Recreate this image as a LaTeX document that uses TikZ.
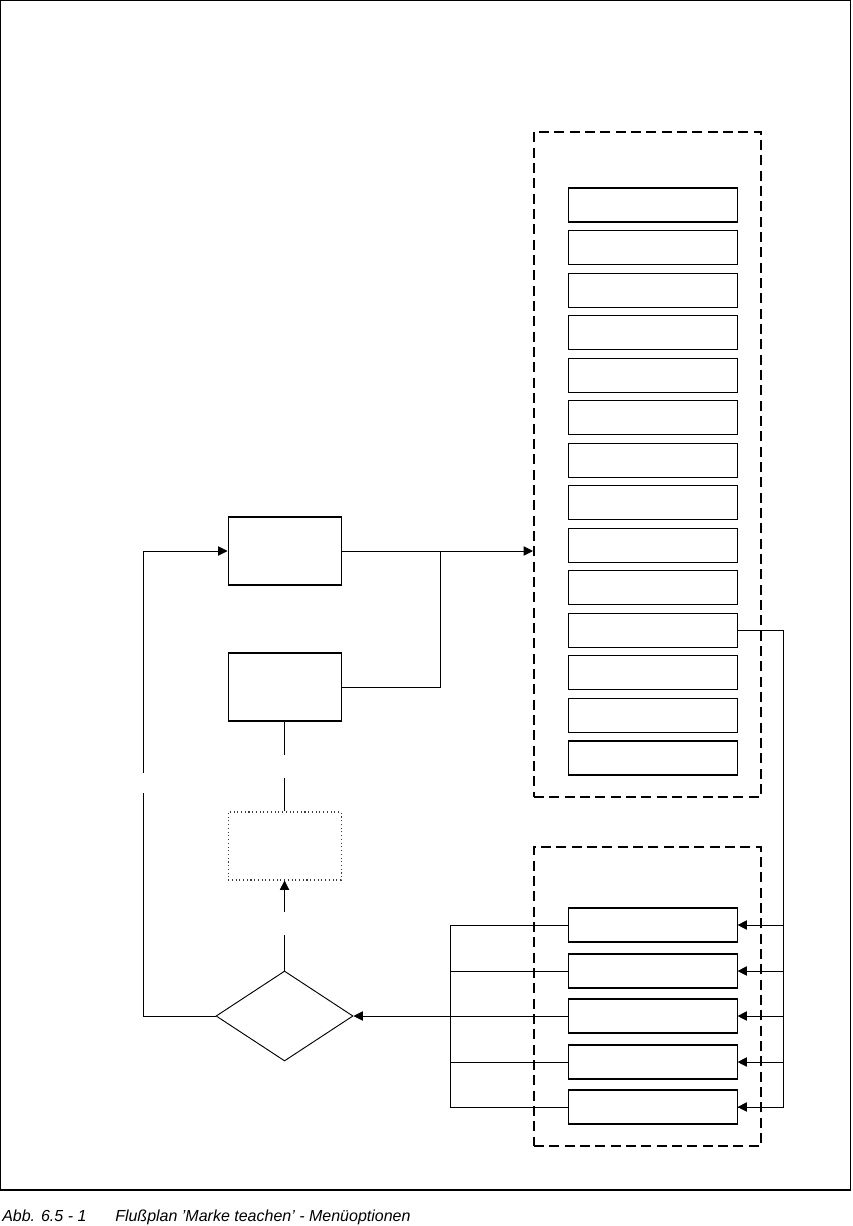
\documentclass[tikz,border=0pt]{standalone}
\usepackage{fontspec}
\setmainfont{Liberation Sans}
\usetikzlibrary{arrows.meta,shapes.geometric}
\definecolor{line_color}{RGB}{0,0,0}
\definecolor{dot_color}{RGB}{60,60,60}
\tikzset{
  frame/.style={draw=line_color, line width=0.8pt},
  group/.style={
    draw=line_color, line width=1.5pt, dash pattern=on 7.5pt off 4pt,
    minimum width=170.25pt, inner sep=0pt
  },
  option/.style={
    draw=line_color, line width=0.8pt,
    minimum width=126.75pt, minimum height=25.5pt, inner sep=0pt
  },
  action/.style={
    draw=line_color, line width=0.8pt,
    minimum width=84.75pt, minimum height=51pt, inner sep=0pt
  },
  pending/.style={
    draw=dot_color, line width=0.8pt, dotted,
    minimum width=84.75pt, minimum height=51pt, inner sep=0pt
  },
  decision/.style={
    draw=line_color, line width=0.7pt, diamond, aspect=1.52, inner sep=0pt,
    minimum width=102.75pt, minimum height=67.5pt
  },
  flowlink/.style={line width=0.65pt, -{Triangle[length=7pt, width=7pt]}},
  plainlink/.style={line width=0.65pt},
  caption/.style={anchor=base west, inner sep=0pt, font=\fontsize{12}{14}\selectfont\itshape}
}

\begin{document}
\begin{tikzpicture}

\useasboundingbox (0,0) rectangle (639pt,-919.5pt);
\draw[frame] (0.4pt,-0.4pt) rectangle (638.2pt,-892.5pt);

\node[group, minimum height=498.75pt] (menu) at (485.6pt,-348.4pt) {};
\node[group, minimum height=224.25pt] (choice) at (485.6pt,-747.4pt) {};

\node[option] (opt1) at (489.4pt,-153.75pt) {};
\node[option] (opt2) at (489.4pt,-185.6pt) {};
\node[option] (opt3) at (489.4pt,-217.6pt) {};
\node[option] (opt4) at (489.4pt,-249.5pt) {};
\node[option] (opt5) at (489.4pt,-281.4pt) {};
\node[option] (opt6) at (489.4pt,-313.3pt) {};
\node[option] (opt7) at (489.4pt,-345.2pt) {};
\node[option] (opt8) at (489.4pt,-377.1pt) {};
\node[option] (opt9) at (489.4pt,-409.0pt) {};
\node[option] (opt10) at (489.4pt,-440.9pt) {};
\node[option] (opt11) at (489.4pt,-472.8pt) {};
\node[option] (opt12) at (489.4pt,-504.7pt) {};
\node[option] (opt13) at (489.4pt,-536.6pt) {};
\node[option] (opt14) at (489.4pt,-568.5pt) {};

\node[option] (sel1) at (489.4pt,-693.75pt) {};
\node[option] (sel2) at (489.4pt,-728.25pt) {};
\node[option] (sel3) at (489.4pt,-762pt) {};
\node[option] (sel4) at (489.4pt,-796.5pt) {};
\node[option] (sel5) at (489.4pt,-830.25pt) {};

\node[action] (teach) at (213.4pt,-413.25pt) {};
\node[action] (store) at (213.4pt,-515.25pt) {};
\node[pending] (wait) at (213.4pt,-634.5pt) {};
\node[decision] (ask) at (213.4pt,-762pt) {};

% junctions and rails
\coordinate (join) at (330pt,-413.25pt);
\coordinate (rail) at (587.25pt,-472.8pt);
\coordinate (collect) at (337.5pt,-762pt);
\coordinate (loop_bottom) at (107.25pt,-762pt);
\coordinate (loop_gap_low) at (107.25pt,-594.75pt);
\coordinate (loop_gap_high) at (107.25pt,-579.75pt);
\coordinate (store_gap_high) at (213.4pt,-566.25pt);
\coordinate (store_gap_low) at (213.4pt,-583.5pt);
\coordinate (ask_gap_high) at (213.4pt,-684pt);
\coordinate (ask_gap_low) at (213.4pt,-701.25pt);

\draw[flowlink] (teach.east) -- (teach.east -| menu.west);
\draw[plainlink] (store.east) -| (join);

\draw[plainlink] (opt11.east) -- (rail) |- (sel5.east);
\draw[flowlink] (rail |- sel1.east) -- (sel1.east);
\draw[flowlink] (rail |- sel2.east) -- (sel2.east);
\draw[flowlink] (rail |- sel3.east) -- (sel3.east);
\draw[flowlink] (rail |- sel4.east) -- (sel4.east);
\draw[flowlink] (rail |- sel5.east) -- (sel5.east);

\draw[plainlink] (sel1.west) -| (collect |- sel5.west) -- (sel5.west);
\draw[plainlink] (sel2.west) -- (collect |- sel2.west);
\draw[plainlink] (sel4.west) -- (collect |- sel4.west);
\draw[flowlink] (sel3.west) -- (ask.east);

\draw[plainlink] (ask.west) -- (loop_bottom) -- (loop_gap_low);
\draw[flowlink] (loop_gap_high) |- (teach.west);

\draw[plainlink] (store.south) -- (store_gap_high);
\draw[plainlink] (store_gap_low) -- (wait.north);
\draw[plainlink] (ask.north) -- (ask_gap_low);
\draw[flowlink] (ask_gap_high) -- (wait.south);

\node[caption] (fig_no) at (1.5pt,-915.75pt) {Abb. 6.5 - 1};
\node[caption] (fig_title) at (86.25pt,-915.75pt) {Flußplan 'Marke teachen' - Menüoptionen};

\end{tikzpicture}
\end{document}
